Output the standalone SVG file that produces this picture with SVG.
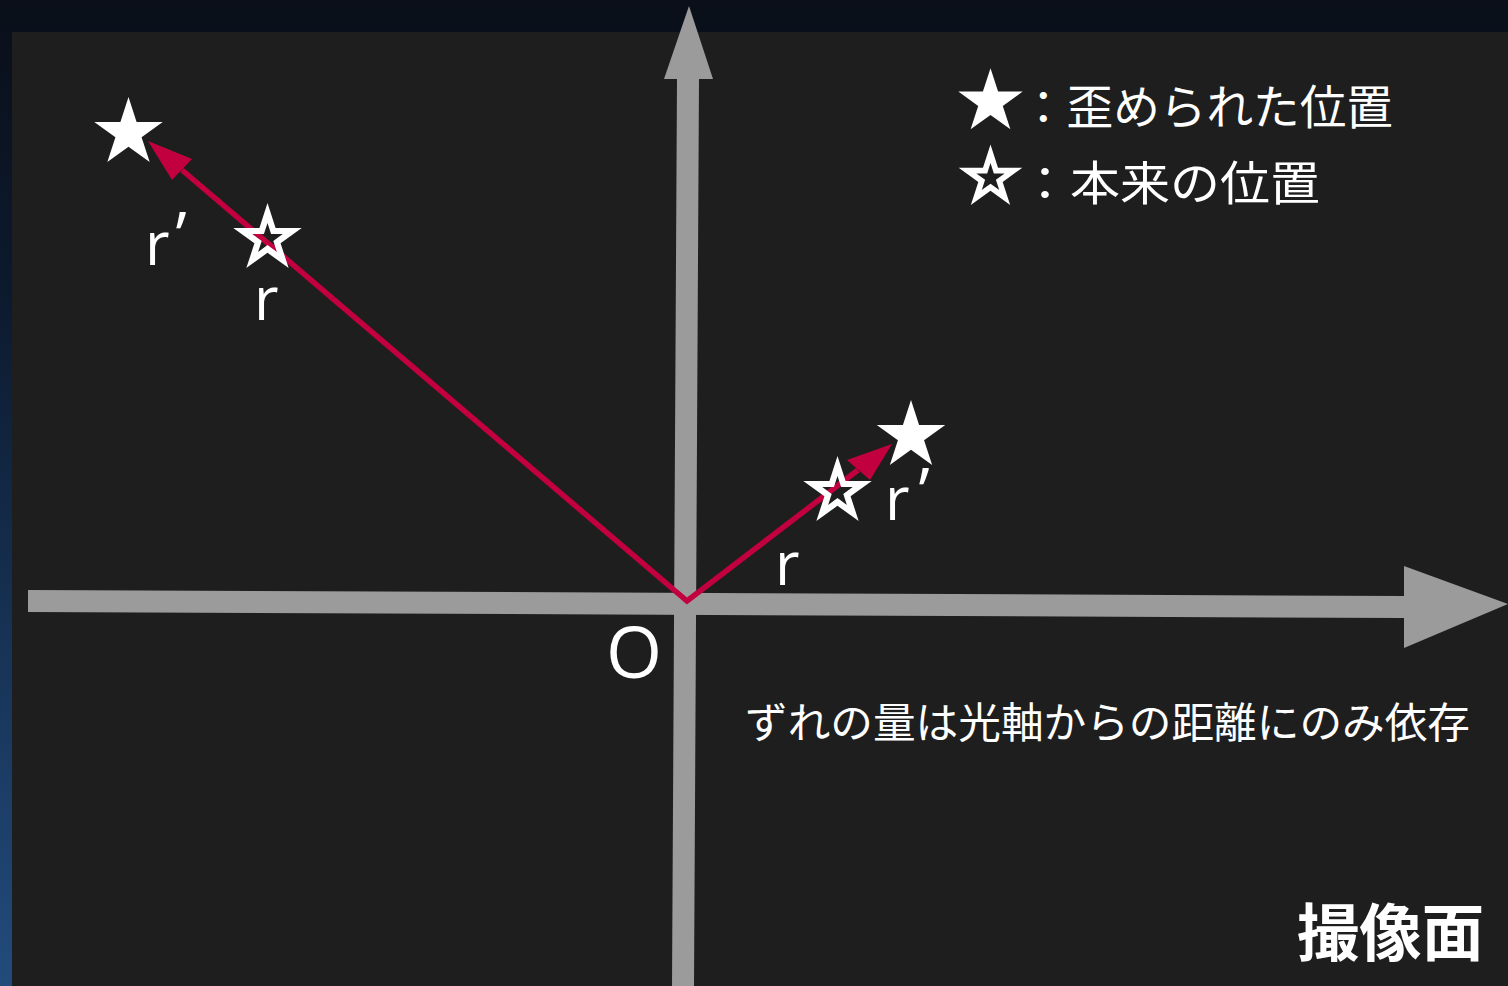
<svg xmlns="http://www.w3.org/2000/svg" width="1508" height="986" viewBox="0 0 1508 986">
<defs>
<linearGradient id="bg" x1="0" y1="0" x2="0" y2="1">
<stop offset="0" stop-color="#0a0f19"/>
<stop offset="0.3" stop-color="#0c1a2e"/>
<stop offset="1" stop-color="#224b7c"/>
</linearGradient>
<path id="starF" d="M0,-36 L8.08,-11.12 L34.24,-11.12 L13.08,4.25 L21.16,29.12 L0,13.75 L-21.16,29.12 L-13.08,4.25 L-34.24,-11.12 L-8.08,-11.12 Z"/>
<path id="starH" fill-rule="evenodd" d="M0,-36 L8.08,-11.12 L34.24,-11.12 L13.08,4.25 L21.16,29.12 L0,13.75 L-21.16,29.12 L-13.08,4.25 L-34.24,-11.12 L-8.08,-11.12 Z M0,-16 L3.59,-4.94 L15.22,-4.94 L5.81,1.89 L9.40,12.94 L0,6.11 L-9.40,12.94 L-5.81,1.89 L-15.22,-4.94 L-3.59,-4.94 Z"/>
</defs>
<style>
.axis{fill:#9b9b9b}
.vec{stroke:#c3003f;stroke-width:5.5;fill:none;stroke-linejoin:miter}
.head{fill:#c3003f}
.star{fill:#ffffff}
.lbl{font-family:"Open Sans","Noto Sans","DejaVu Sans",sans-serif;fill:#ffffff}
.jp{font-family:"Noto Sans CJK JP","Noto Sans",sans-serif;fill:#ffffff}
</style>
<rect x="0" y="0" width="1508" height="986" fill="url(#bg)"/>
<rect x="12" y="32" width="1496" height="954" fill="#1e1e1e"/>

<g id="axes">
<polygon id="x-axis" class="axis" points="28,590 1404,596 1404,566 1508,604 1404,648 1404,618 28,612"/>
<polygon id="y-axis" class="axis" points="689,6 713,79 699,79 694,986 672,986 677,79 664,79"/>
</g>

<g id="connectors">
<polyline class="vec" points="182,170 687,601 858,470"/>
<polygon class="head" points="148,141 192,159 172,180"/>
<polygon class="head" points="892,444 847,460 870,480"/>
</g>

<g id="star-left-distorted"><use href="#starF" class="star" transform="translate(128.5,133)"/></g>
<g id="star-left-original"><use href="#starH" class="star" transform="translate(267.5,239)"/></g>
<g id="star-right-original"><use href="#starH" class="star" transform="translate(837.5,492)"/></g>
<g id="star-right-distorted"><use href="#starF" class="star" transform="translate(911,436)"/></g>

<g id="labels">
<text class="lbl" x="145" y="265" font-size="60">r<tspan dx="6" dy="-6" font-size="66">’</tspan></text>
<text class="lbl" x="254" y="320" font-size="60">r</text>
<text class="lbl" x="885" y="520" font-size="60">r<tspan dx="9" dy="-5" font-size="66">’</tspan></text>
<text class="lbl" x="775" y="585" font-size="60">r</text>
<text class="lbl" x="606" y="678" font-size="72">O</text>
</g>

<g id="legend">
<use href="#starF" class="star" transform="translate(990.5,102) scale(0.94)"/>
<use href="#starH" class="star" transform="translate(990.5,178) scale(0.93)"/>
<text class="jp" x="1020" y="124" font-size="47" textLength="373" lengthAdjust="spacingAndGlyphs">：歪められた位置</text>
<text class="jp" x="1020" y="200" font-size="47" textLength="300" lengthAdjust="spacingAndGlyphs">：本来の位置</text>
</g>

<g id="caption">
<text class="jp" x="745" y="738" font-size="42" textLength="725" lengthAdjust="spacingAndGlyphs">ずれの量は光軸からの距離にのみ依存</text>
</g>

<g id="title">
<text class="jp" x="1297" y="956" font-size="62" font-weight="bold" textLength="187" lengthAdjust="spacingAndGlyphs">撮像面</text>
</g>
</svg>
